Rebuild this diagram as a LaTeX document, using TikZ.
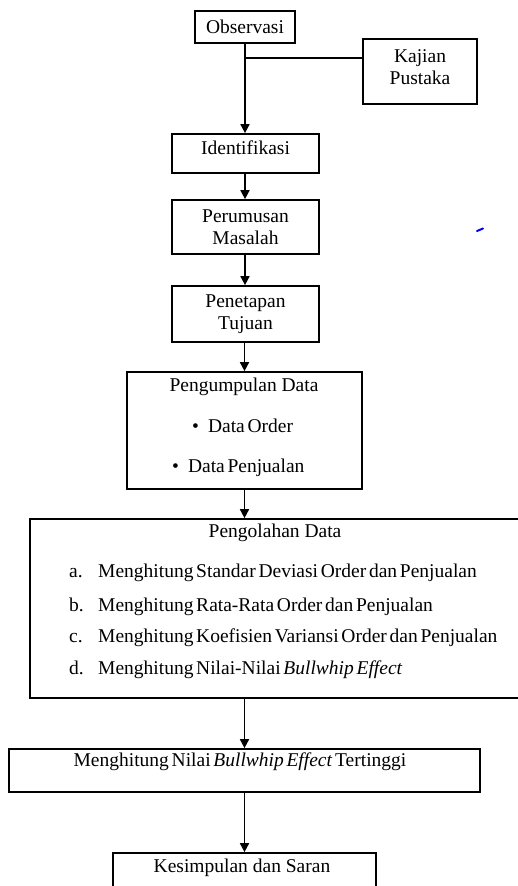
\documentclass[tikz,border=0pt]{standalone}
\usepackage{fontspec}
\setmainfont{Liberation Serif}
\usetikzlibrary{arrows.meta}
\newcommand{\tightsp}{\spaceskip=0.14em plus 0.05em\relax}
\begin{document}
\begin{tikzpicture}[x=1pt,y=-1pt,
  box/.style={draw, line width=1.7pt, rectangle, inner sep=0pt},
  txt/.style={font=\fontsize{19.5}{22.5}\selectfont, inner sep=0pt, align=center},
  tight/.style={font=\fontsize{19.5}{22}\selectfont, execute at begin node=\tightsp, inner sep=0pt, text height=13pt, text depth=4pt},
  flow/.style={line width=1.7pt, -{Triangle[width=9pt,length=9pt]}},
  link/.style={line width=1.7pt}]
\useasboundingbox (0,0) rectangle (518,886);
\fill[white] (0,0) rectangle (518,886);

% boxes
\node[box, minimum width=100pt, minimum height=32pt] (obs) at (245,27) {};
\node[txt] (obsT) at (245,27) {Observasi};
\node[box, minimum width=114pt, minimum height=65pt] (kaj) at (420,71.5) {};
\node[txt] (kajT) at (420,67) {Kajian\\Pustaka};
\node[box, minimum width=147pt, minimum height=39pt] (iden) at (245.5,153.5) {};
\node[txt] (idenT) at (245.5,148) {Identifikasi};
\node[box, minimum width=147pt, minimum height=54pt] (perum) at (245.5,227) {};
\node[txt] (perumT) at (245.5,227) {Perumusan\\Masalah};
\node[box, minimum width=147pt, minimum height=56pt] (penet) at (245.5,314) {};
\node[txt] (penetT) at (245.5,314) {Penetapan\\Tujuan};

\node[box, minimum width=235pt, minimum height=117pt] (kumpul) at (244.5,430.5) {};
\node[txt] (kumpulT) at (244,387) {Pengumpulan Data};
\node[tight, anchor=west] (k1) at (192,428) {\textbullet\hspace{9pt}Data Order};
\node[tight, anchor=west] (k2) at (172,468) {\textbullet\hspace{9pt}Data Penjualan};

\node[box, minimum width=500pt, minimum height=179pt] (olah) at (280,608.5) {};
\node[txt] (olahT) at (275,533) {Pengolahan Data};
\node[tight, anchor=west] (la) at (69,573) {a.};
\node[tight, anchor=west] (ta) at (98,573) {Menghitung Standar Deviasi Order dan Penjualan};
\node[tight, anchor=west] (lb) at (69,607) {b.};
\node[tight, anchor=west] (tb) at (98,607) {Menghitung Rata-Rata Order dan Penjualan};
\node[tight, anchor=west] (lc) at (69,638) {c.};
\node[tight, anchor=west] (tc) at (98,638) {Menghitung Koefisien Variansi Order dan Penjualan};
\node[tight, anchor=west] (ld) at (69,670) {d.};
\node[tight, anchor=west] (td) at (98,670) {Menghitung Nilai-Nilai \textit{Bullwhip Effect}};

\node[box, minimum width=471pt, minimum height=43pt] (hitung) at (244.5,770.5) {};
\node[tight] (hitungT) at (240,762) {Menghitung Nilai \textit{Bullwhip Effect} Tertinggi};

\node[box, minimum width=263pt, minimum height=60pt] (simpul) at (244.5,883) {};
\node[txt] (simpulT) at (242,868) {Kesimpulan dan Saran};

% connectors
\coordinate (j) at (245,58);
\draw[flow] (obs.south) -- (obs.south |- iden.north);
\draw[link] (j -| kaj.west) -- (j);
\draw[flow] (iden.south -| obs.south) -- (perum.north -| obs.south);
\draw[flow] (perum.south -| obs.south) -- (penet.north -| obs.south);
\draw[flow] (kumpul.north |- penet.south) -- (kumpul.north);
\draw[flow] (kumpul.south) -- (kumpul.south |- olah.north);
\draw[flow] (hitung.north |- olah.south) -- (hitung.north);
\draw[flow] (hitung.south) -- (simpul.north);

% stray blue mark
\draw[blue, line width=2pt, line cap=round] (477,231) -- (483,228.5);
\end{tikzpicture}
\end{document}
